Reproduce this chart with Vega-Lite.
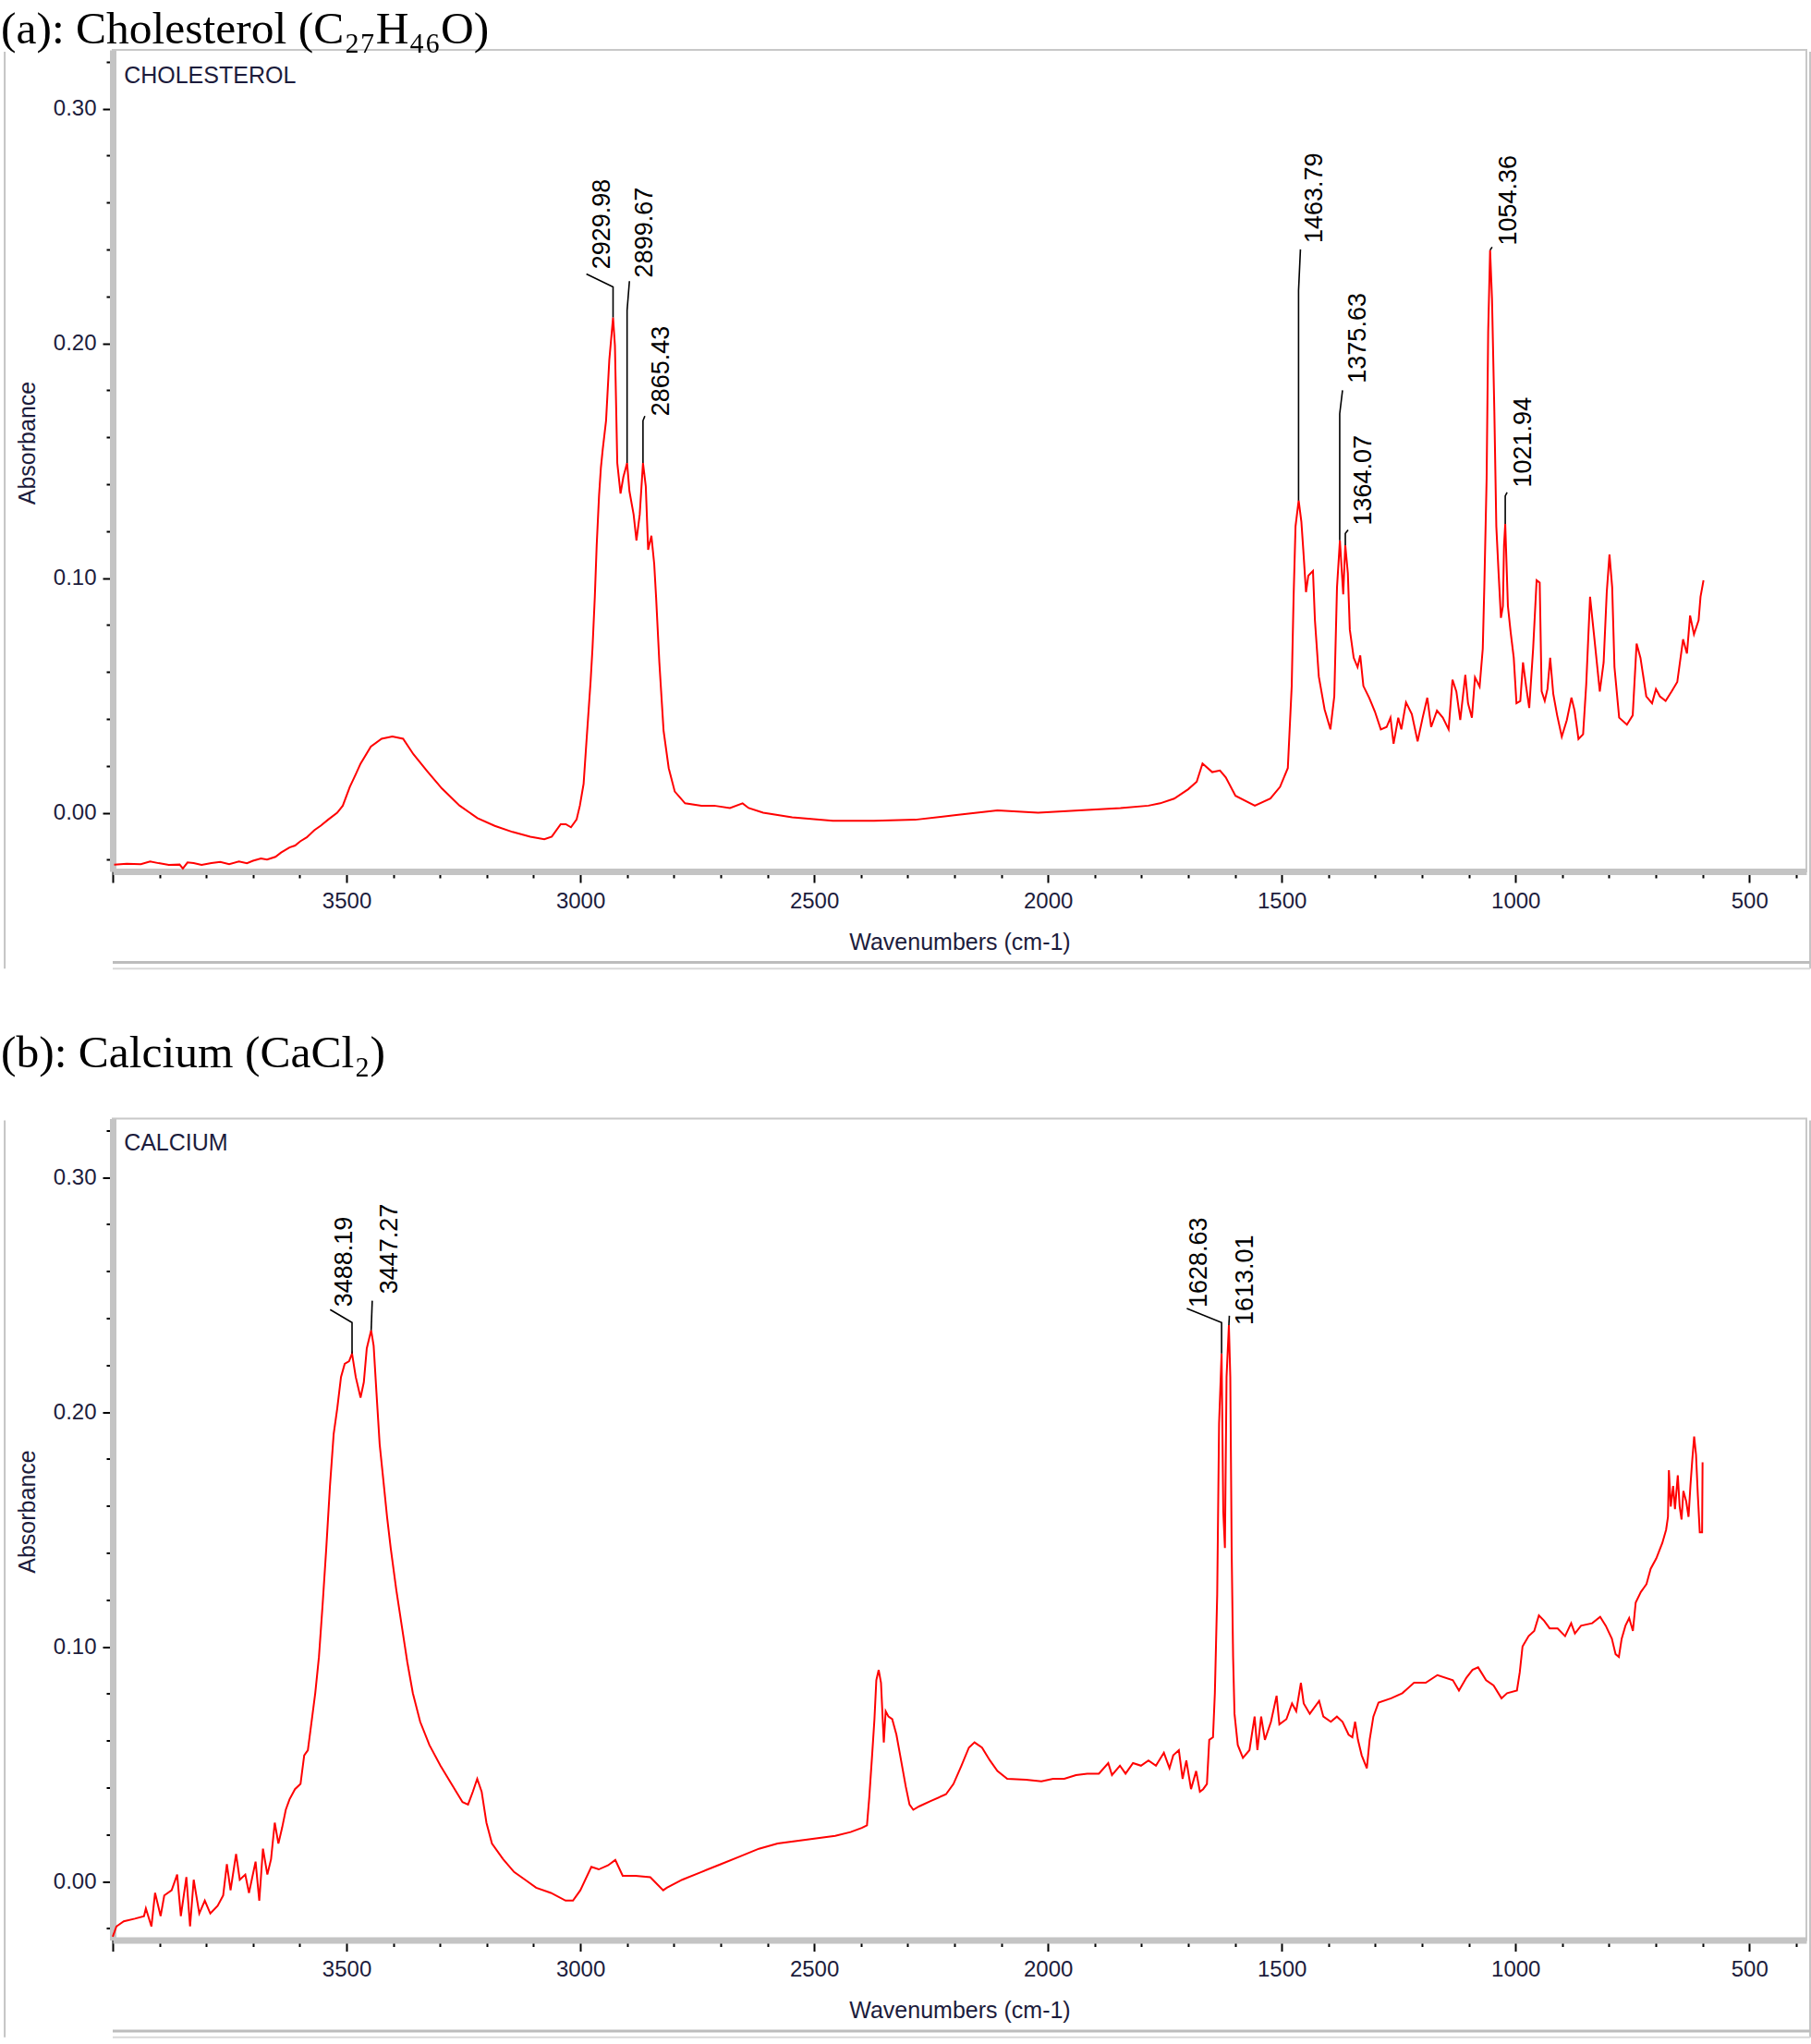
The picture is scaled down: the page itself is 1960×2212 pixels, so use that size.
{
"$schema": "https://vega.github.io/schema/vega-lite/v6.json",
"background": "white",
"padding": {"left": 0, "top": 5, "right": 0, "bottom": 0},
"spacing": 62.5,
"config": {"view": {"stroke": "#c8c8c8", "strokeWidth": 2}, "font": "Liberation Sans"},
"datasets": {
"chol": [
{"w":3997,"a":-0.0221},{"w":3970,"a":-0.0218},{"w":3940,"a":-0.0219},{"w":3920,"a":-0.0208},{"w":3902,"a":-0.0215},{"w":3880,"a":-0.0222},{"w":3857,"a":-0.0221},{"w":3850,"a":-0.0238},{"w":3840,"a":-0.0212},{"w":3827,"a":-0.0215},{"w":3810,"a":-0.0222},{"w":3789,"a":-0.0215},{"w":3770,"a":-0.021},{"w":3751,"a":-0.0219},{"w":3730,"a":-0.0208},{"w":3713,"a":-0.0215},{"w":3700,"a":-0.0205},{"w":3683,"a":-0.0195},{"w":3670,"a":-0.02},{"w":3652,"a":-0.0188},{"w":3640,"a":-0.017},{"w":3622,"a":-0.0148},{"w":3610,"a":-0.014},{"w":3599,"a":-0.0122},{"w":3585,"a":-0.0105},{"w":3569,"a":-0.0075},{"w":3555,"a":-0.0055},{"w":3539,"a":-0.0029},{"w":3520,"a":0.0},{"w":3508,"a":0.003},{"w":3493,"a":0.011},{"w":3480,"a":0.0165},{"w":3470,"a":0.0209},{"w":3448,"a":0.0282},{"w":3425,"a":0.0315},{"w":3402,"a":0.0325},{"w":3379,"a":0.0315},{"w":3357,"a":0.0249},{"w":3327,"a":0.0176},{"w":3296,"a":0.0103},{"w":3258,"a":0.003},{"w":3220,"a":-0.0023},{"w":3183,"a":-0.0056},{"w":3145,"a":-0.0082},{"w":3107,"a":-0.0102},{"w":3077,"a":-0.0113},{"w":3061,"a":-0.0102},{"w":3042,"a":-0.0049},{"w":3031,"a":-0.0049},{"w":3020,"a":-0.0062},{"w":3008,"a":-0.0029},{"w":3001,"a":0.003},{"w":2993,"a":0.0123},{"w":2987,"a":0.03},{"w":2978,"a":0.056},{"w":2974,"a":0.07},{"w":2969,"a":0.092},{"w":2965,"a":0.114},{"w":2960,"a":0.135},{"w":2956,"a":0.147},{"w":2952,"a":0.155},{"w":2945,"a":0.167},{"w":2938,"a":0.193},{"w":2930,"a":0.211},{"w":2926,"a":0.199},{"w":2921,"a":0.149},{"w":2914,"a":0.136},{"w":2908,"a":0.143},{"w":2900,"a":0.149},{"w":2895,"a":0.137},{"w":2886,"a":0.127},{"w":2880,"a":0.116},{"w":2873,"a":0.127},{"w":2866,"a":0.149},{"w":2860,"a":0.139},{"w":2855,"a":0.112},{"w":2848,"a":0.118},{"w":2842,"a":0.106},{"w":2838,"a":0.092},{"w":2831,"a":0.064},{"w":2822,"a":0.035},{"w":2811,"a":0.019},{"w":2798,"a":0.009},{"w":2776,"a":0.004},{"w":2741,"a":0.003},{"w":2714,"a":0.003},{"w":2680,"a":0.002},{"w":2653,"a":0.004},{"w":2640,"a":0.002},{"w":2609,"a":0.0},{"w":2547,"a":-0.002},{"w":2460,"a":-0.0034},{"w":2372,"a":-0.0034},{"w":2284,"a":-0.003},{"w":2196,"a":-0.001},{"w":2108,"a":0.001},{"w":2021,"a":0.0},{"w":1933,"a":0.001},{"w":1845,"a":0.002},{"w":1785,"a":0.003},{"w":1760,"a":0.004},{"w":1730,"a":0.006},{"w":1700,"a":0.01},
{"w":1681.8,"a":0.0132},{"w":1669.4,"a":0.021},{"w":1648.6,"a":0.0173},{"w":1632.1,"a":0.018},{"w":1619.6,"a":0.015},{"w":1598.9,"a":0.0072},{"w":1557.5,"a":0.003},{"w":1524.3,"a":0.006},{"w":1503.6,"a":0.011},{"w":1487,"a":0.019},{"w":1478.7,"a":0.0537},{"w":1474.6,"a":0.092},{"w":1470.5,"a":0.122},{"w":1463.8,"a":0.133},{"w":1458,"a":0.124},{"w":1453.9,"a":0.112},{"w":1448.1,"a":0.094},{"w":1443.1,"a":0.101},{"w":1433.2,"a":0.103},{"w":1429,"a":0.082},{"w":1420.7,"a":0.058},{"w":1408.3,"a":0.044},{"w":1395.9,"a":0.0355},{"w":1387.6,"a":0.0496},{"w":1381.8,"a":0.096},{"w":1375.6,"a":0.116},{"w":1368.5,"a":0.093},{"w":1364.1,"a":0.114},{"w":1358.6,"a":0.102},{"w":1354.4,"a":0.078},{"w":1346.1,"a":0.066},{"w":1337.8,"a":0.062},{"w":1332.1,"a":0.067},{"w":1325.4,"a":0.054},{"w":1313,"a":0.049},{"w":1300.6,"a":0.043},{"w":1288.1,"a":0.0355},{"w":1275.7,"a":0.0365},{"w":1267.4,"a":0.0405},{"w":1260.8,"a":0.0294},{"w":1250.8,"a":0.0405},{"w":1244.2,"a":0.0355},{"w":1234.2,"a":0.047},{"w":1221.8,"a":0.042},{"w":1209.4,"a":0.0304},{"w":1198.6,"a":0.0405},{"w":1188.7,"a":0.049},{"w":1180.4,"a":0.0365},{"w":1168,"a":0.0435},{"w":1155.5,"a":0.0405},{"w":1143.1,"a":0.0355},{"w":1134.8,"a":0.0567},{"w":1126.5,"a":0.0516},{"w":1118.2,"a":0.0395},{"w":1107.4,"a":0.0587},{"w":1101.6,"a":0.0466},{"w":1093.3,"a":0.0405},{"w":1086.7,"a":0.0577},{"w":1076.8,"a":0.0537},{"w":1070.1,"a":0.0698},{"w":1066.8,"a":0.096},{"w":1061.8,"a":0.1426},{"w":1058.5,"a":0.205},{"w":1054.4,"a":0.2397},{"w":1050.3,"a":0.219},{"w":1045.3,"a":0.171},{"w":1041.1,"a":0.122},{"w":1036.2,"a":0.102},{"w":1031.2,"a":0.083},{"w":1027,"a":0.088},{"w":1024.6,"a":0.114},{"w":1022,"a":0.123},{"w":1016.3,"a":0.088},{"w":1010.5,"a":0.077},{"w":1003.8,"a":0.066},{"w":998,"a":0.0466},{"w":989.8,"a":0.0476},{"w":984,"a":0.064},{"w":977.3,"a":0.0537},{"w":970.7,"a":0.0446},{"w":962.4,"a":0.0698},{"w":954.9,"a":0.099},{"w":948.3,"a":0.098},{"w":944.2,"a":0.0517},{"w":937.5,"a":0.0476},{"w":931.7,"a":0.0527},{"w":925.9,"a":0.066},{"w":919.3,"a":0.0506},{"w":911,"a":0.0415},{"w":901.1,"a":0.0324},{"w":890.3,"a":0.0395},{"w":880.4,"a":0.049},{"w":873.7,"a":0.0435},{"w":865.4,"a":0.0314},{"w":855.5,"a":0.0334},{"w":848.8,"a":0.0547},{"w":840.6,"a":0.092},{"w":832.3,"a":0.076},{"w":819.8,"a":0.0516},{"w":811.6,"a":0.064},{"w":804.9,"a":0.094},{"w":799.1,"a":0.11},{"w":793.3,"a":0.096},{"w":788.4,"a":0.062},{"w":778.4,"a":0.0405},{"w":761.8,"a":0.0375},{"w":749.4,"a":0.0415},{"w":741.1,"a":0.072},{"w":732.8,"a":0.066},{"w":720.4,"a":0.0496},{"w":708,"a":0.0466},{"w":699.7,"a":0.0527},{"w":691.4,"a":0.0496},{"w":679,"a":0.0476},{"w":666.5,"a":0.0516},{"w":654.1,"a":0.0557},{"w":641.7,"a":0.0739},{"w":633.4,"a":0.0678},{"w":626.7,"a":0.084},{"w":618.4,"a":0.076},{"w":608.5,"a":0.082},{"w":604.4,"a":0.092},{"w":598,"a":0.099}
],
"calc": [
{"w":4000,"a":-0.0236},{"w":3992.1,"a":-0.0192},{"w":3976.4,"a":-0.017},{"w":3952.7,"a":-0.0159},{"w":3933.1,"a":-0.0148},{"w":3929.1,"a":-0.0115},{"w":3917.3,"a":-0.0192},{"w":3909.4,"a":-0.0049},{"w":3897.6,"a":-0.0148},{"w":3889.8,"a":-0.006},{"w":3874,"a":-0.0038},{"w":3862.2,"a":0.0029},{"w":3854.3,"a":-0.0148},{"w":3842.5,"a":0.0018},{"w":3834.6,"a":-0.0192},{"w":3826.8,"a":0.0007},{"w":3814.9,"a":-0.0137},{"w":3803.1,"a":-0.0082},{"w":3791.3,"a":-0.0137},{"w":3775.6,"a":-0.0104},{"w":3763.8,"a":-0.006},{"w":3755.9,"a":0.0073},{"w":3748,"a":-0.0038},{"w":3736.2,"a":0.0117},{"w":3728.3,"a":0.0007},{"w":3716.5,"a":0.0029},{"w":3708.6,"a":-0.0049},{"w":3694.5,"a":0.0084},{"w":3686.6,"a":-0.0082},{"w":3678.7,"a":0.0139},{"w":3669.3,"a":0.0029},{"w":3661.4,"a":0.0095},{"w":3653.5,"a":0.025},{"w":3645.7,"a":0.0161},{"w":3637.8,"a":0.0228},{"w":3629.9,"a":0.0305},{"w":3622,"a":0.0349},{"w":3610.2,"a":0.0393},{"w":3598.4,"a":0.0415},{"w":3590.5,"a":0.0537},{"w":3582.7,"a":0.0559},{"w":3574.8,"a":0.068},{"w":3566.9,"a":0.0802},{"w":3559,"a":0.0956},{"w":3551.2,"a":0.1177},{"w":3543.3,"a":0.142},{"w":3535.4,"a":0.1685},{"w":3527.5,"a":0.1906},{"w":3519.7,"a":0.2017},{"w":3511.8,"a":0.2149},{"w":3503.9,"a":0.2205},{"w":3494.5,"a":0.2216},{"w":3488.2,"a":0.2249},{"w":3480.3,"a":0.2149},{"w":3470,"a":0.2061},{"w":3463,"a":0.2127},{"w":3456.7,"a":0.2271},{"w":3447.3,"a":0.2348},{"w":3442,"a":0.2282},{"w":3436,"a":0.2083},{"w":3429.1,"a":0.1862},{"w":3421.2,"a":0.1708},{"w":3413.3,"a":0.1553},{"w":3405.5,"a":0.142},{"w":3393.7,"a":0.1244},{"w":3381.9,"a":0.1089},{"w":3370,"a":0.0934},{"w":3358.2,"a":0.0802},{"w":3342.5,"a":0.068},{"w":3322.8,"a":0.0581},{"w":3299.2,"a":0.0493},{"w":3275.6,"a":0.0415},{"w":3251.9,"a":0.0338},{"w":3240.1,"a":0.0327},{"w":3229.9,"a":0.0382},{"w":3220.5,"a":0.0437},{"w":3211,"a":0.0382},{"w":3200.8,"a":0.025},{"w":3189,"a":0.0161},{"w":3165.3,"a":0.0095},{"w":3141.7,"a":0.004},{"w":3118.1,"a":0.0007},{"w":3094.5,"a":-0.0027},{"w":3063,"a":-0.0049},{"w":3031.5,"a":-0.0082},{"w":3015.7,"a":-0.0082},{"w":3000,"a":-0.0038},{"w":2976.4,"a":0.0062},{"w":2960.6,"a":0.0051},{"w":2940.9,"a":0.0068},{"w":2925.2,"a":0.0091},{"w":2909.4,"a":0.0024},{"w":2881.9,"a":0.0024},{"w":2850.4,"a":0.0018},{"w":2822.8,"a":-0.0038},{"w":2815,"a":-0.0027},{"w":2782,"a":0.0007},{"w":2741,"a":0.004},{"w":2700,"a":0.0073},{"w":2659,"a":0.0106},{"w":2618,"a":0.0139},{"w":2578,"a":0.0161},{"w":2537,"a":0.0172},{"w":2496,"a":0.0183},{"w":2455,"a":0.0194},{"w":2422,"a":0.021},{"w":2398,"a":0.0228},{"w":2387,"a":0.0239},{"w":2382,"a":0.036},{"w":2376,"a":0.0537},{"w":2371,"a":0.0691},{"w":2367,"a":0.0857},{"w":2362,"a":0.0901},{"w":2357,"a":0.0846},{"w":2351,"a":0.0592},{"w":2347,"a":0.0725},{"w":2341,"a":0.0702},{"w":2333,"a":0.0691},{"w":2324,"a":0.0625},{"w":2316,"a":0.0537},{"w":2304,"a":0.0404},{"w":2296,"a":0.0327},{"w":2288,"a":0.0305},{"w":2275,"a":0.032},{"w":2251,"a":0.0342},{"w":2218,"a":0.0371},{"w":2202,"a":0.0415},{"w":2185,"a":0.0493},{"w":2169,"a":0.057},{"w":2157,"a":0.0592},{"w":2141,"a":0.057},{"w":2124,"a":0.0515},{"w":2108,"a":0.047},{"w":2087,"a":0.0437},{"w":2047,"a":0.0433},{"w":2014,"a":0.0426},{"w":1989,"a":0.0437},{"w":1965,"a":0.0437},{"w":1940,"a":0.0453},{"w":1916,"a":0.0459},{"w":1891,"a":0.0459},{"w":1871,"a":0.0504},{"w":1863,"a":0.0453},{"w":1846,"a":0.0493},{"w":1834,"a":0.0459},{"w":1818,"a":0.0504},{"w":1801,"a":0.0493},{"w":1785,"a":0.0515},{"w":1769,"a":0.0493},{"w":1752,"a":0.0548},{"w":1740,"a":0.0482},{"w":1732,"a":0.0537},{"w":1720,"a":0.0559},{"w":1712,"a":0.0437},{"w":1704,"a":0.0515},{"w":1694,"a":0.0393},{"w":1683,"a":0.047},{"w":1675,"a":0.0382},{"w":1668,"a":0.0393},{"w":1660,"a":0.0415},{"w":1655,"a":0.0603},{"w":1647,"a":0.0614},{"w":1643,"a":0.0802},{"w":1638,"a":0.1222},{"w":1634,"a":0.1951},{"w":1628.6,"a":0.2249},{"w":1625,"a":0.1575},{"w":1621.5,"a":0.142},{"w":1618,"a":0.2149},{"w":1613,"a":0.237},{"w":1610,"a":0.2149},{"w":1607,"a":0.1398},{"w":1604,"a":0.0956},{"w":1601,"a":0.0714},{"w":1594,"a":0.0581},{"w":1583,"a":0.0526},{"w":1569,"a":0.0559},{"w":1558,"a":0.0702},{"w":1552,"a":0.0559},{"w":1544,"a":0.0702},{"w":1536,"a":0.0603},{"w":1523,"a":0.068},{"w":1511,"a":0.0791},{"w":1505,"a":0.0669},{"w":1490,"a":0.0691},{"w":1478,"a":0.0758},{"w":1469,"a":0.0725},{"w":1459,"a":0.0846},{"w":1453,"a":0.0758},{"w":1440,"a":0.0714},{"w":1420,"a":0.0769},{"w":1411,"a":0.0702},{"w":1395,"a":0.068},{"w":1382,"a":0.0702},{"w":1370,"a":0.068},{"w":1357,"a":0.0625},{"w":1349,"a":0.0614},{"w":1343,"a":0.068},{"w":1337,"a":0.0603},{"w":1329,"a":0.0537},{"w":1318,"a":0.0482},{"w":1312,"a":0.0603},{"w":1304,"a":0.0702},{"w":1293,"a":0.0762},{"w":1266,"a":0.078},{"w":1242,"a":0.0802},{"w":1217,"a":0.0846},{"w":1192,"a":0.0846},{"w":1167,"a":0.0879},{"w":1134,"a":0.0857},{"w":1121,"a":0.0813},{"w":1105,"a":0.0868},{"w":1092,"a":0.0901},{"w":1080,"a":0.0912},{"w":1063,"a":0.0857},{"w":1047,"a":0.0835},{"w":1030,"a":0.078},{"w":1018,"a":0.0802},{"w":997,"a":0.0813},{"w":991,"a":0.089},{"w":985,"a":0.1001},{"w":972,"a":0.1045},{"w":960,"a":0.1067},{"w":950,"a":0.1133},{"w":939,"a":0.1111},{"w":927,"a":0.1078},{"w":910,"a":0.1078},{"w":894,"a":0.1045},{"w":881,"a":0.11},{"w":873,"a":0.1056},{"w":860,"a":0.1089},{"w":836,"a":0.11},{"w":819,"a":0.1127},{"w":807,"a":0.1089},{"w":794,"a":0.1034},{"w":786,"a":0.0968},{"w":779,"a":0.0956},{"w":773,"a":0.1034},{"w":765,"a":0.1089},{"w":757,"a":0.1122},{"w":749,"a":0.1067},{"w":743,"a":0.1188},{"w":732,"a":0.1233},{"w":720,"a":0.1266},{"w":711,"a":0.1332},{"w":699,"a":0.1376},{"w":686,"a":0.1442},{"w":678,"a":0.1498},{"w":674,"a":0.1553},{"w":672,"a":0.1752},{"w":668,"a":0.1597},{"w":663,"a":0.1685},{"w":659,"a":0.1586},{"w":653,"a":0.173},{"w":649,"a":0.1597},{"w":645,"a":0.1542},{"w":641,"a":0.1663},{"w":635,"a":0.1619},{"w":630,"a":0.1553},{"w":626,"a":0.1685},{"w":622,"a":0.1796},{"w":618,"a":0.1895},{"w":614,"a":0.1818},{"w":610,"a":0.1641},{"w":606,"a":0.1487},{"w":601,"a":0.1487},{"w":600,"a":0.1785}
],
"ldA": [
{"p":"2929.98","i":0,"w":2930,"a":0.211},{"p":"2929.98","i":1,"w":2930,"a":0.224},{"p":"2929.98","i":2,"w":2987,"a":0.2295},
{"p":"2899.67","i":0,"w":2900,"a":0.149},{"p":"2899.67","i":1,"w":2900,"a":0.214},{"p":"2899.67","i":2,"w":2895,"a":0.2265},
{"p":"2865.43","i":0,"w":2866,"a":0.149},{"p":"2865.43","i":1,"w":2866,"a":0.167},{"p":"2865.43","i":2,"w":2862,"a":0.169},
{"p":"1463.79","i":0,"w":1464,"a":0.133},{"p":"1463.79","i":1,"w":1464,"a":0.2225},{"p":"1463.79","i":2,"w":1460,"a":0.24},
{"p":"1375.63","i":0,"w":1376,"a":0.116},{"p":"1375.63","i":1,"w":1376,"a":0.17},{"p":"1375.63","i":2,"w":1370,"a":0.18},
{"p":"1364.07","i":0,"w":1364,"a":0.114},{"p":"1364.07","i":1,"w":1364,"a":0.119},{"p":"1364.07","i":2,"w":1358,"a":0.1205},
{"p":"1054.36","i":0,"w":1054.4,"a":0.2397},{"p":"1054.36","i":1,"w":1050,"a":0.241},
{"p":"1021.94","i":0,"w":1022,"a":0.123},{"p":"1021.94","i":1,"w":1022,"a":0.135},{"p":"1021.94","i":2,"w":1018,"a":0.1365}
],
"pkA": [
{"t":"2929.98","w":2952,"a":0.2316},{"t":"2899.67","w":2861,"a":0.228},{"t":"2865.43","w":2826,"a":0.169},{"t":"1463.79","w":1430,"a":0.2427},{"t":"1375.63","w":1337,"a":0.183},{"t":"1364.07","w":1325,"a":0.1224},{"t":"1054.36","w":1014,"a":0.2417},{"t":"1021.94","w":983,"a":0.1386}
],
"ldB": [
{"p":"3488.19","i":0,"w":3488.2,"a":0.2249},{"p":"3488.19","i":1,"w":3488.2,"a":0.2381},{"p":"3488.19","i":2,"w":3535,"a":0.2436},
{"p":"3447.27","i":0,"w":3447.3,"a":0.2348},{"p":"3447.27","i":1,"w":3445,"a":0.2474},
{"p":"1628.63","i":0,"w":1628.6,"a":0.2249},{"p":"1628.63","i":1,"w":1628.6,"a":0.2381},{"p":"1628.63","i":2,"w":1703,"a":0.2441},
{"p":"1613.01","i":0,"w":1613,"a":0.237},{"p":"1613.01","i":1,"w":1612,"a":0.241}
],
"pkB": [
{"t":"3488.19","w":3504,"a":0.2448},{"t":"3447.27","w":3408,"a":0.2503},{"t":"1628.63","w":1676,"a":0.2445},{"t":"1613.01","w":1577,"a":0.237}
],
"vlines": [
{"s":"left","i":0,"w":4231,"a":0.3242},{"s":"left","i":1,"w":4231,"a":-0.0664},
{"s":"right","i":0,"w":370,"a":0.3242},{"s":"right","i":1,"w":370,"a":-0.0664}
],
"hline1": [
{"s":"bottom1","i":0,"w":4000,"a":-0.0638},{"s":"bottom1","i":1,"w":370,"a":-0.0638}
],
"hline2": [
{"s":"bottom2","i":0,"w":4000,"a":-0.0664},{"s":"bottom2","i":1,"w":370,"a":-0.0664}
]
},
"vconcat": [
{
"width": 1833, "height": 889,
"title": {"text": "(a): Cholesterol (C₂₇H₄₆O)", "anchor": "start", "frame": "group", "font": "Liberation Serif", "fontSize": 49.5, "fontWeight": "normal", "color": "#000", "offset": -3, "dx": -121},
"layer": [
{"data": {"name": "chol"}, "mark": {"type": "line", "color": "#ff0000", "strokeWidth": 2},
 "encoding": {
  "x": {"field": "w", "type": "quantitative", "scale": {"domain": [378, 4000], "reverse": true, "nice": false, "zero": false},
   "axis": {"title": "Wavenumbers (cm-1)", "values": [400,500,600,700,800,900,1000,1100,1200,1300,1400,1500,1600,1700,1800,1900,2000,2100,2200,2300,2400,2500,2600,2700,2800,2900,3000,3100,3200,3300,3400,3500,3600,3700,3800,3900,4000],
    "labelExpr": "datum.value % 500 == 0 && datum.value < 4000 ? format(datum.value, 'd') : ''",
    "grid": false, "domainColor": "#c4c4c4", "domainWidth": 7, "tickColor": "#000", "tickWidth": 2,
    "tickSize": {"condition": {"test": "datum.value % 500 == 0", "value": 12}, "value": 7},
    "labelPadding": 8, "labelFontSize": 24, "labelColor": "#1c1c3c", "labelOverlap": false, "labelFlush": false,
    "titleFontSize": 25, "titleFontWeight": "normal", "titleColor": "#1c1c3c", "titlePadding": 20}},
  "y": {"field": "a", "type": "quantitative", "scale": {"domain": [-0.025, 0.325], "nice": false, "zero": false},
   "axis": {"title": "Absorbance", "values": [-0.02,0,0.02,0.04,0.06,0.08,0.1,0.12,0.14,0.16,0.18,0.2,0.22,0.24,0.26,0.28,0.3,0.32],
    "labelExpr": "abs(round(datum.value*100)) % 10 == 0 ? format(datum.value, '.2f') : ''",
    "grid": false, "domainColor": "#c4c4c4", "domainWidth": 7, "tickColor": "#000", "tickWidth": 2,
    "tickSize": {"condition": {"test": "abs(round(datum.value*100)) % 10 == 0", "value": 11}, "value": 7},
    "labelPadding": 7, "labelFontSize": 24, "labelColor": "#1c1c3c", "labelOverlap": false, "labelFlush": false,
    "titleFontSize": 25, "titleFontWeight": "normal", "titleColor": "#1c1c3c", "titlePadding": 14.5, "titleY": 425}}
 }},
{"data": {"name": "vlines"}, "mark": {"type": "line", "color": "#c4c4c4", "strokeWidth": 2, "strokeJoin": "round", "clip": false},
 "encoding": {"x": {"field": "w", "type": "quantitative"}, "y": {"field": "a", "type": "quantitative"}, "detail": {"field": "s"}, "order": {"field": "i"}}},
{"data": {"name": "hline1"}, "mark": {"type": "line", "color": "#bdbdbd", "strokeWidth": 3, "strokeJoin": "round", "clip": false},
 "encoding": {"x": {"field": "w", "type": "quantitative"}, "y": {"field": "a", "type": "quantitative"}, "detail": {"field": "s"}, "order": {"field": "i"}}},
{"data": {"name": "hline2"}, "mark": {"type": "line", "color": "#d8d8d8", "strokeWidth": 2, "strokeJoin": "round", "clip": false},
 "encoding": {"x": {"field": "w", "type": "quantitative"}, "y": {"field": "a", "type": "quantitative"}, "detail": {"field": "s"}, "order": {"field": "i"}}},
{"mark": {"type": "rule", "color": "#555555", "strokeWidth": 1.6}, "encoding": {"y": {"datum": 0.1139}}},
{"data": {"name": "ldA"}, "mark": {"type": "line", "color": "#000", "strokeWidth": 1.6},
 "encoding": {"x": {"field": "w", "type": "quantitative"}, "y": {"field": "a", "type": "quantitative"}, "detail": {"field": "p"}, "order": {"field": "i"}}},
{"data": {"name": "pkA"}, "mark": {"type": "text", "angle": 270, "align": "left", "baseline": "middle", "fontSize": 27, "color": "#000"},
 "encoding": {"x": {"field": "w", "type": "quantitative"}, "y": {"field": "a", "type": "quantitative"}, "text": {"field": "t"}}},
{"data": {"values": [{"t": "CHOLESTEROL", "w": 3976, "a": 0.3138}]}, "mark": {"type": "text", "align": "left", "baseline": "middle", "fontSize": 25, "color": "#1c1c3c"},
 "encoding": {"x": {"field": "w", "type": "quantitative"}, "y": {"field": "a", "type": "quantitative"}, "text": {"field": "t"}}}
]
},
{
"width": 1833, "height": 889,
"title": {"text": "(b): Calcium (CaCl₂)", "anchor": "start", "frame": "group", "font": "Liberation Serif", "fontSize": 49.5, "fontWeight": "normal", "color": "#000", "offset": 45.5, "dx": -121},
"layer": [
{"data": {"name": "calc"}, "mark": {"type": "line", "color": "#ff0000", "strokeWidth": 2},
 "encoding": {
  "x": {"field": "w", "type": "quantitative", "scale": {"domain": [378, 4000], "reverse": true, "nice": false, "zero": false},
   "axis": {"title": "Wavenumbers (cm-1)", "values": [400,500,600,700,800,900,1000,1100,1200,1300,1400,1500,1600,1700,1800,1900,2000,2100,2200,2300,2400,2500,2600,2700,2800,2900,3000,3100,3200,3300,3400,3500,3600,3700,3800,3900,4000],
    "labelExpr": "datum.value % 500 == 0 && datum.value < 4000 ? format(datum.value, 'd') : ''",
    "grid": false, "domainColor": "#c4c4c4", "domainWidth": 7, "tickColor": "#000", "tickWidth": 2,
    "tickSize": {"condition": {"test": "datum.value % 500 == 0", "value": 12}, "value": 7},
    "labelPadding": 8, "labelFontSize": 24, "labelColor": "#1c1c3c", "labelOverlap": false, "labelFlush": false,
    "titleFontSize": 25, "titleFontWeight": "normal", "titleColor": "#1c1c3c", "titlePadding": 20}},
  "y": {"field": "a", "type": "quantitative", "scale": {"domain": [-0.025, 0.325], "nice": false, "zero": false},
   "axis": {"title": "Absorbance", "values": [-0.02,0,0.02,0.04,0.06,0.08,0.1,0.12,0.14,0.16,0.18,0.2,0.22,0.24,0.26,0.28,0.3,0.32],
    "labelExpr": "abs(round(datum.value*100)) % 10 == 0 ? format(datum.value, '.2f') : ''",
    "grid": false, "domainColor": "#c4c4c4", "domainWidth": 7, "tickColor": "#000", "tickWidth": 2,
    "tickSize": {"condition": {"test": "abs(round(datum.value*100)) % 10 == 0", "value": 11}, "value": 7},
    "labelPadding": 7, "labelFontSize": 24, "labelColor": "#1c1c3c", "labelOverlap": false, "labelFlush": false,
    "titleFontSize": 25, "titleFontWeight": "normal", "titleColor": "#1c1c3c", "titlePadding": 14.5, "titleY": 425}}
 }},
{"data": {"name": "vlines"}, "mark": {"type": "line", "color": "#c4c4c4", "strokeWidth": 2, "strokeJoin": "round", "clip": false},
 "encoding": {"x": {"field": "w", "type": "quantitative"}, "y": {"field": "a", "type": "quantitative"}, "detail": {"field": "s"}, "order": {"field": "i"}}},
{"data": {"name": "hline1"}, "mark": {"type": "line", "color": "#bdbdbd", "strokeWidth": 3, "strokeJoin": "round", "clip": false},
 "encoding": {"x": {"field": "w", "type": "quantitative"}, "y": {"field": "a", "type": "quantitative"}, "detail": {"field": "s"}, "order": {"field": "i"}}},
{"data": {"name": "hline2"}, "mark": {"type": "line", "color": "#d8d8d8", "strokeWidth": 2, "strokeJoin": "round", "clip": false},
 "encoding": {"x": {"field": "w", "type": "quantitative"}, "y": {"field": "a", "type": "quantitative"}, "detail": {"field": "s"}, "order": {"field": "i"}}},
{"mark": {"type": "rule", "color": "#555555", "strokeWidth": 1.6}, "encoding": {"y": {"datum": 0.1917}}},
{"data": {"name": "ldB"}, "mark": {"type": "line", "color": "#000", "strokeWidth": 1.6},
 "encoding": {"x": {"field": "w", "type": "quantitative"}, "y": {"field": "a", "type": "quantitative"}, "detail": {"field": "p"}, "order": {"field": "i"}}},
{"data": {"name": "pkB"}, "mark": {"type": "text", "angle": 270, "align": "left", "baseline": "middle", "fontSize": 27, "color": "#000"},
 "encoding": {"x": {"field": "w", "type": "quantitative"}, "y": {"field": "a", "type": "quantitative"}, "text": {"field": "t"}}},
{"data": {"values": [{"t": "CALCIUM", "w": 3976, "a": 0.3144}]}, "mark": {"type": "text", "align": "left", "baseline": "middle", "fontSize": 25, "color": "#1c1c3c"},
 "encoding": {"x": {"field": "w", "type": "quantitative"}, "y": {"field": "a", "type": "quantitative"}, "text": {"field": "t"}}}
]
}
]
}
